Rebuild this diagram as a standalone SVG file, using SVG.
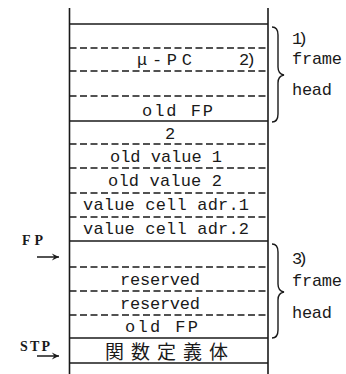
<svg xmlns="http://www.w3.org/2000/svg" width="346" height="374" viewBox="0 0 346 374">
<defs>
<style>
.v{stroke:#1a1a1a;stroke-width:1.6;fill:none}
.s{stroke:#1a1a1a;stroke-width:1.5;fill:none}
.d{stroke:#1a1a1a;stroke-width:1.4;fill:none;stroke-dasharray:7 3.5}
.t{font-family:"Liberation Mono","DejaVu Sans Mono",monospace;font-size:17px;fill:#1a1a1a}
.l{font-family:"Liberation Serif","DejaVu Serif",serif;font-size:14px;font-weight:bold;fill:#1a1a1a}
.j{font-family:"Noto Sans CJK JP","Noto Sans CJK SC",sans-serif;font-size:19px;fill:#1a1a1a}
.b{stroke:#1a1a1a;stroke-width:1.4;fill:none}
</style>
<marker id="ah" viewBox="0 0 10 10" refX="9" refY="5" markerWidth="9" markerHeight="9" orient="auto" markerUnits="userSpaceOnUse">
<path d="M1,1 L9,5 L1,9 L4,5 Z" fill="#1a1a1a"/>
</marker>
</defs>
<rect width="346" height="374" fill="#fff"/>
<g id="stack">
<line class="v" x1="69.5" y1="8" x2="69.5" y2="374"/>
<line class="v" x1="268" y1="8" x2="268" y2="374"/>
</g>
<g id="frame1">
<line class="s" x1="69.5" y1="24" x2="268" y2="24"/>
<line class="d" x1="69.5" y1="48" x2="268" y2="48"/>
<line class="d" x1="69.5" y1="71" x2="268" y2="71"/>
<line class="d" x1="69.5" y1="96" x2="268" y2="96"/>
<line class="s" x1="69.5" y1="121" x2="268" y2="121"/>
<text class="t" x="137" y="65" textLength="55">μ-PC</text>
<text class="t" x="239" y="65" textLength="17">2)</text>
<text class="t" x="142" y="116" textLength="71">old FP</text>
</g>
<g id="values">
<line class="d" x1="69.5" y1="144" x2="268" y2="144"/>
<line class="d" x1="69.5" y1="168" x2="268" y2="168"/>
<line class="d" x1="69.5" y1="193" x2="268" y2="193"/>
<line class="d" x1="69.5" y1="217" x2="268" y2="217"/>
<line class="s" x1="69.5" y1="241" x2="268" y2="241"/>
<text class="t" x="170" y="139" text-anchor="middle">2</text>
<text class="t" x="110" y="162" textLength="112">old value 1</text>
<text class="t" x="108" y="186" textLength="114">old value 2</text>
<text class="t" x="83" y="210" textLength="166">value cell adr.1</text>
<text class="t" x="83" y="234" textLength="166">value cell adr.2</text>
</g>
<g id="frame3">
<line class="d" x1="69.5" y1="267" x2="268" y2="267"/>
<line class="d" x1="69.5" y1="291" x2="268" y2="291"/>
<line class="d" x1="69.5" y1="315" x2="268" y2="315"/>
<line class="s" x1="69.5" y1="338" x2="268" y2="338"/>
<text class="t" x="120" y="285" textLength="80">reserved</text>
<text class="t" x="120" y="309" textLength="80">reserved</text>
<text class="t" x="125" y="332" textLength="73">old FP</text>
</g>
<g id="body">
<line class="s" x1="69.5" y1="363" x2="268" y2="363"/>
<text class="j" x="105" y="359" textLength="123">関数定義体</text>
</g>
<g id="braces">
<path class="b" d="M272,27 Q278,27 278,35 L278,67 Q278,74 284,75 Q278,76 278,83 L278,114 Q278,122 272,122"/>
<text class="t" x="292" y="44" textLength="16">1)</text>
<text class="t" x="292" y="64" textLength="50">frame</text>
<text class="t" x="292" y="95" textLength="40">head</text>
<path class="b" d="M272,244 Q278,244 278,252 L278,284 Q278,291 284,292 Q278,293 278,300 L278,330 Q278,338 272,338"/>
<text class="t" x="292" y="264" textLength="16">3)</text>
<text class="t" x="292" y="286" textLength="50">frame</text>
<text class="t" x="292" y="318" textLength="40">head</text>
</g>
<g id="pointers">
<text class="l" x="22" y="245" textLength="21">FP</text>
<line class="s" x1="37" y1="257" x2="59" y2="257" marker-end="url(#ah)"/>
<text class="l" x="20" y="351" textLength="30">STP</text>
<line class="s" x1="37" y1="356" x2="59" y2="356" marker-end="url(#ah)"/>
</g>
</svg>
